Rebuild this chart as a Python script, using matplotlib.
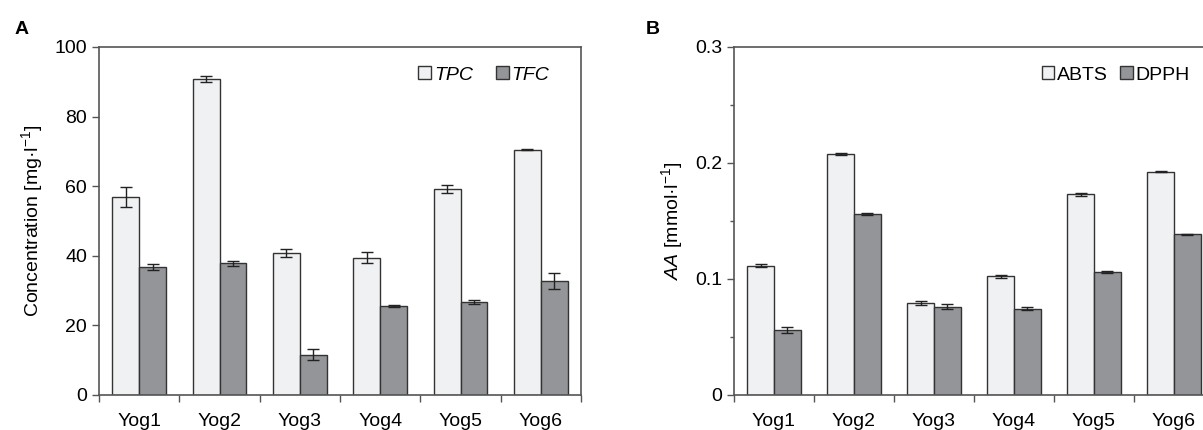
import numpy as np
import matplotlib.pyplot as plt

plt.rcParams['font.family'] = ['Liberation Sans', 'DejaVu Sans']
plt.rcParams['mathtext.fontset'] = 'custom'
plt.rcParams['mathtext.rm'] = 'Liberation Sans'
plt.rcParams['mathtext.it'] = 'Liberation Sans:italic'

samples = ['Yog1', 'Yog2', 'Yog3', 'Yog4', 'Yog5', 'Yog6']

tpc = [56.9, 90.9, 40.8, 39.4, 59.2, 70.5]
tpc_err = [2.9, 0.9, 1.1, 1.6, 1.1, 0.1]
tfc = [36.7, 37.8, 11.6, 25.6, 26.8, 32.8]
tfc_err = [0.9, 0.7, 1.5, 0.3, 0.6, 2.3]

abts = [0.1115, 0.2077, 0.0790, 0.1023, 0.1730, 0.1926]
abts_err = [0.0014, 0.0009, 0.0018, 0.0015, 0.0012, 0.0005]
dpph = [0.0562, 0.1564, 0.0762, 0.0745, 0.1063, 0.1384]
dpph_err = [0.0024, 0.0008, 0.0024, 0.0015, 0.0008, 0.0003]

light = '#f0f1f3'
dark = '#939598'
edge = '#333333'
spine = '#555555'
bw = 0.335
fs = 14


def bar_panel(ax, a, a_err, b, b_err, names):
    x = np.arange(len(samples))
    ekw = dict(elinewidth=1, capthick=1, ecolor='#222222')
    ax.bar(x - bw / 2, a, bw, yerr=a_err, color=light, edgecolor=edge,
           linewidth=1, capsize=4, error_kw=ekw, label=names[0])
    ax.bar(x + bw / 2, b, bw, yerr=b_err, color=dark, edgecolor=edge,
           linewidth=1, capsize=4, error_kw=ekw, label=names[1])
    ax.set_xlim(-0.5, len(samples) - 0.5)
    ax.set_xticks(np.arange(-0.5, len(samples), 1))
    ax.set_xticklabels([])
    ax.set_xticks(x, minor=True)
    ax.set_xticklabels(samples, minor=True, fontsize=fs)
    ax.tick_params(axis='x', which='major', length=5, width=1, color=spine, direction='out')
    ax.tick_params(axis='x', which='minor', length=0, pad=13)
    ax.tick_params(axis='y', which='both', width=1, color=spine, direction='out', labelsize=fs)
    ax.tick_params(axis='y', which='major', length=5)
    ax.tick_params(axis='y', which='minor', length=3)
    for s in ax.spines.values():
        s.set_color(spine)
        s.set_linewidth(1.2)


fig = plt.figure(figsize=(12.03, 4.30), dpi=100)

ax1 = fig.add_axes([0.0823, 0.0814, 0.4007, 0.8093])
bar_panel(ax1, tpc, tpc_err, tfc, tfc_err, ['TPC', 'TFC'])
ax1.set_ylim(0, 100)
ax1.set_yticks([0, 20, 40, 60, 80, 100])
ax1.set_ylabel('Concentration [mg·l$^{-1}$]', fontsize=fs, labelpad=7)
ax1.legend(loc='upper right', ncol=2, frameon=False,
           handlelength=0.65, handleheight=0.65, handletextpad=0.15,
           columnspacing=1.2, borderaxespad=0.6, bbox_to_anchor=(0.975, 1.0),
           prop={'style': 'italic', 'size': fs})

ax2 = fig.add_axes([0.6101, 0.0814, 0.399, 0.8093])
bar_panel(ax2, abts, abts_err, dpph, dpph_err, ['ABTS', 'DPPH'])
ax2.set_ylim(0, 0.3)
ax2.set_yticks([0, 0.1, 0.2, 0.3])
ax2.set_yticklabels(['0', '0.1', '0.2', '0.3'])
ax2.set_yticks([0.05, 0.15, 0.25], minor=True)
ax2.set_ylabel(r'$\mathit{AA}$ [mmol·l$^{-1}$]', fontsize=fs, labelpad=7)
ax2.legend(loc='upper right', ncol=2, frameon=False,
           handlelength=0.65, handleheight=0.65, handletextpad=0.15,
           columnspacing=0.6, borderaxespad=0.6, bbox_to_anchor=(0.99, 1.0),
           prop={'size': fs})

fig.text(0.012, 0.92, 'A', fontsize=14, fontweight='bold')
fig.text(0.537, 0.92, 'B', fontsize=14, fontweight='bold')

fig.savefig('out.png', dpi=100)
